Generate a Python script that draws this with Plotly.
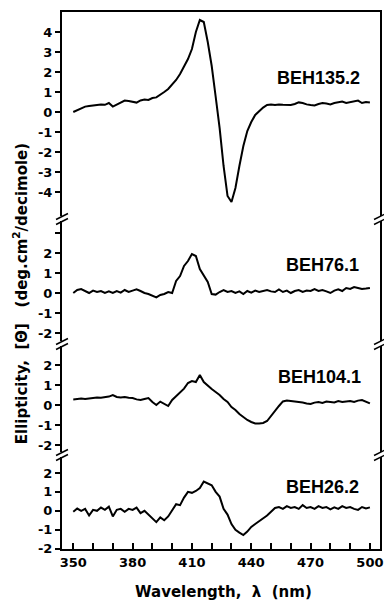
import plotly.graph_objects as go
from plotly.subplots import make_subplots

# ---------------- data ----------------
wavelength = list(range(350, 501, 2))

beh135_2 = [0.0, 0.1, 0.2, 0.27, 0.3, 0.33, 0.35, 0.38, 0.36, 0.45,
            0.27, 0.38, 0.5, 0.57, 0.55, 0.5, 0.47, 0.58, 0.62, 0.6,
            0.7, 0.73, 0.85, 1.0, 1.15, 1.35, 1.6, 1.9, 2.25, 2.65,
            3.15, 4.0, 4.6, 4.5, 3.5, 2.3, 0.77, -0.8, -2.7, -4.2,
            -4.5, -3.8, -2.7, -1.7, -0.95, -0.5, -0.15, 0.05, 0.22, 0.35,
            0.38, 0.35, 0.38, 0.36, 0.34, 0.35, 0.4, 0.48, 0.45, 0.38,
            0.35, 0.33, 0.4, 0.45, 0.42, 0.38, 0.45, 0.5, 0.52, 0.45,
            0.5, 0.55, 0.57, 0.45, 0.5, 0.47]

beh76_1 = [0.0, 0.15, 0.2, 0.1, 0.0, 0.12, 0.05, 0.1, 0.0, 0.08,
           0.0, 0.1, 0.02, 0.15, 0.05, 0.12, 0.18, 0.1, 0.0, -0.05,
           -0.15, -0.22, -0.1, -0.05, 0.05, 0.0, 0.6, 0.85, 1.35, 1.6,
           1.95, 1.85, 1.2, 0.9, 0.55, -0.05, -0.08, 0.05, 0.15, 0.05,
           0.1, 0.0, 0.08, -0.05, 0.1, 0.02, 0.12, 0.05, 0.1, 0.15,
           0.08, 0.05, 0.18, 0.05, 0.12, 0.0, 0.1, 0.15, 0.05, 0.12,
           0.1, 0.2, 0.1, 0.15, 0.08, 0.0, 0.12, 0.18, 0.1, 0.25,
           0.2, 0.3, 0.25, 0.2, 0.22, 0.25]

beh104_1 = [0.28, 0.3, 0.32, 0.3, 0.33, 0.35, 0.38, 0.36, 0.4, 0.42,
            0.5, 0.4, 0.38, 0.4, 0.36, 0.35, 0.28, 0.25, 0.3, 0.35,
            0.15, 0.0, 0.17, 0.05, -0.05, 0.25, 0.45, 0.62, 0.82, 1.1,
            1.2, 1.15, 1.5, 1.15, 0.95, 0.8, 0.65, 0.5, 0.3, 0.15,
            -0.1, -0.25, -0.45, -0.6, -0.75, -0.85, -0.92, -0.92, -0.9, -0.8,
            -0.55, -0.25, -0.05, 0.18, 0.22, 0.2, 0.18, 0.17, 0.12, 0.08,
            0.05, 0.12, 0.15, 0.1, 0.17, 0.15, 0.13, 0.2, 0.15, 0.18,
            0.2, 0.15, 0.22, 0.25, 0.18, 0.08]

beh26_2 = [-0.05, 0.12, 0.0, 0.1, -0.25, 0.05, 0.0, 0.17, 0.05, 0.22,
           -0.3, 0.05, 0.1, -0.05, 0.1, 0.05, 0.17, -0.12, 0.0, -0.2,
           -0.45, -0.6, -0.35, -0.5, -0.3, 0.05, 0.35, 0.3, 0.7, 1.0,
           0.95, 1.05, 1.2, 1.55, 1.45, 1.35, 1.0, 0.75, 0.1, -0.2,
           -0.7, -1.0, -1.15, -1.28, -1.1, -0.85, -0.7, -0.55, -0.4, -0.25,
           -0.05, 0.15, 0.2, 0.1, 0.25, 0.15, 0.2, 0.1, 0.3, 0.15,
           0.2, 0.1, 0.25, 0.15, 0.2, 0.08, 0.18, 0.1, 0.25, 0.15,
           0.2, 0.1, 0.05, 0.2, 0.12, 0.18]

series = [("BEH135.2", beh135_2), ("BEH76.1", beh76_1),
          ("BEH104.1", beh104_1), ("BEH26.2", beh26_2)]

x_tick_vals = list(range(350, 501, 10))
x_tick_labels = [str(v) if (v - 350) % 30 == 0 else "" for v in x_tick_vals]

panel_ranges = [[-5.35, 5.0], [-2.55, 3.7], [-2.5, 3.05], [-2.02, 2.95]]
panel_ticks = [[-4, -3, -2, -1, 0, 1, 2, 3, 4],
               [-2, -1, 0, 1, 2, 3],
               [-2, -1, 0, 1, 2],
               [-2, -1, 0, 1, 2]]
panel_ticktext = [["-4", "-3", "-2", "-1", "0", "1", "2", "3", "4"],
                  ["-2", "-1", "0", "1", "2", ""],
                  ["-2", "-1", "0", "1", "2"],
                  ["-2", "-1", "0", "1", "2"]]

# ---------------- layout geometry ----------------
W, H = 384, 601
ML, MR, MT, MB = 62, 2, 12, 52
PW, PH = W - ML - MR, H - MT - MB
bounds_px = [12, 219, 344, 455, 549]   # panel boundaries (pixel y)


def py2paper(py):
    return (MT + PH - py) / PH


def px2paper(px):
    return (px - ML) / PW


fig = make_subplots(rows=4, cols=1, shared_xaxes=True, vertical_spacing=0)

for i, (name, vals) in enumerate(series):
    fig.add_trace(go.Scatter(x=wavelength, y=vals, mode="lines",
                             line=dict(color="black", width=2),
                             showlegend=False, name=name), row=i + 1, col=1)

tickfont = dict(family="DejaVu Sans", size=13, color="black", weight="bold")

for i in range(4):
    yname = "yaxis" if i == 0 else f"yaxis{i + 1}"
    top = py2paper(bounds_px[i])
    bot = py2paper(bounds_px[i + 1])
    fig.layout[yname].update(
        domain=[bot, top], range=panel_ranges[i],
        tickmode="array", tickvals=panel_ticks[i], ticktext=panel_ticktext[i],
        ticks="outside", ticklen=5, tickwidth=1.5, tickcolor="black",
        showline=True, linewidth=2, linecolor="black", mirror=True,
        showgrid=False, zeroline=False, tickfont=tickfont)
    xname = "xaxis" if i == 0 else f"xaxis{i + 1}"
    fig.layout[xname].update(range=[344.3, 505.1], showgrid=False,
                             zeroline=False)
    if i < 3:
        fig.layout[xname].update(showline=False, ticks="", showticklabels=False)

fig.layout.xaxis.update(side="top", showline=True, linewidth=2,
                        linecolor="black", ticks="")
fig.layout.xaxis4.update(
    tickmode="array", tickvals=x_tick_vals, ticktext=x_tick_labels,
    ticks="inside", ticklen=6, tickwidth=1.5, tickcolor="black",
    showline=True, linewidth=2, linecolor="black", showticklabels=True,
    tickfont=tickfont)

# series labels
label_pos = [(364, 78), (363, 265), (365, 377), (363, 487)]
for (name, _), (lx, ly) in zip(series, label_pos):
    fig.add_annotation(x=px2paper(lx), y=py2paper(ly), xref="paper", yref="paper",
                       text=name, showarrow=False, xanchor="right", yanchor="middle",
                       font=dict(family="Liberation Sans", size=18, color="black",
                                 weight="bold"))

# axis titles
fig.add_annotation(x=px2paper(20), y=py2paper(294), xref="paper", yref="paper",
                   text="Ellipticity,\u00a0\u00a0[\u0398]\u00a0\u00a0\u00a0(deg.cm<sup>2</sup>/decimole)",
                   textangle=-90, showarrow=False, xanchor="center", yanchor="middle",
                   font=dict(family="DejaVu Sans", size=15, color="black", weight="bold"))
fig.add_annotation(x=px2paper(225), y=py2paper(592), xref="paper", yref="paper",
                   text="Wavelength,\u00a0 \u03bb\u00a0 (nm)", showarrow=False,
                   xanchor="center", yanchor="middle",
                   font=dict(family="DejaVu Sans", size=15, color="black", weight="bold"))

# axis break marks
shapes = []
for by in bounds_px[1:4]:
    for bx in (ML, ML + PW):
        shapes.append(dict(type="rect", xref="paper", yref="paper",
                           x0=px2paper(bx - 2), x1=px2paper(bx + 2),
                           y0=py2paper(by + 2), y1=py2paper(by - 3),
                           fillcolor="white", line=dict(width=0)))
        for off in (2.5, -2.5):
            shapes.append(dict(type="line", xref="paper", yref="paper",
                               x0=px2paper(bx - 6), y0=py2paper(by + off + 3),
                               x1=px2paper(bx + 6), y1=py2paper(by + off - 3),
                               line=dict(color="black", width=1.5)))

fig.update_layout(width=W, height=H, margin=dict(l=ML, r=MR, t=MT, b=MB),
                  paper_bgcolor="white", plot_bgcolor="white", shapes=shapes,
                  showlegend=False)

fig.write_html("out.html")
